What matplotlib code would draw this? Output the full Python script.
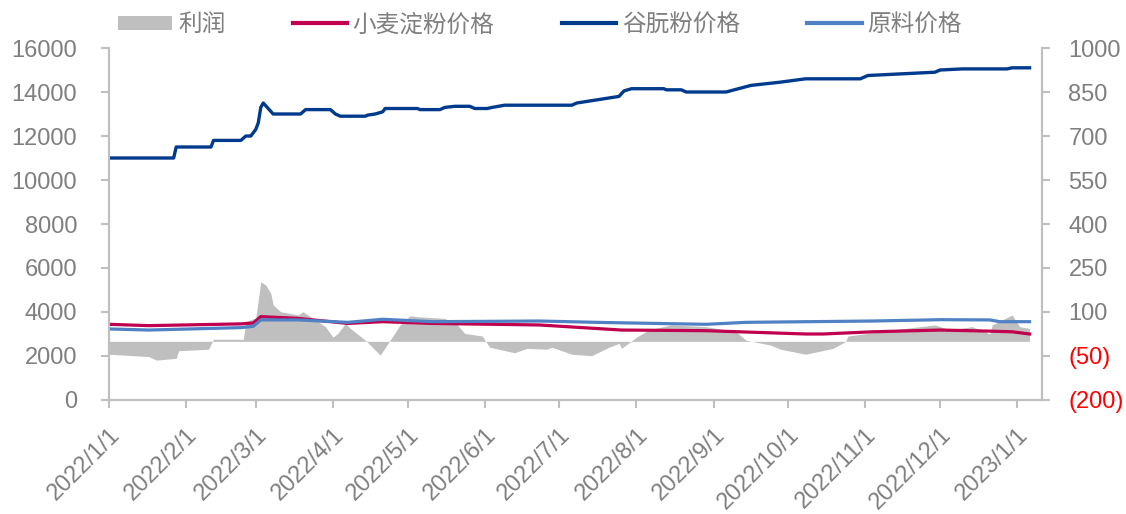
import matplotlib
matplotlib.use("Agg")
import matplotlib.pyplot as plt
import matplotlib.dates as mdates
import pandas as pd
from matplotlib.patches import Patch
from matplotlib.lines import Line2D

plt.rcParams["font.family"] = ["Liberation Sans", "Noto Sans CJK SC", "DejaVu Sans"]

# 谷朊粉价格 (left axis)
gluten_dates = ["2022-01-01", "2022-01-27", "2022-01-28", "2022-02-11", "2022-02-12",
                "2022-02-23", "2022-02-25", "2022-02-27", "2022-03-01", "2022-03-02",
                "2022-03-03", "2022-03-04", "2022-03-06", "2022-03-08", "2022-03-19",
                "2022-03-21", "2022-03-31", "2022-04-02", "2022-04-04", "2022-04-14",
                "2022-04-15", "2022-04-18", "2022-04-21", "2022-04-22", "2022-05-05",
                "2022-05-06", "2022-05-14", "2022-05-16", "2022-05-20", "2022-05-26",
                "2022-05-28", "2022-06-02", "2022-06-04", "2022-06-09", "2022-07-06",
                "2022-07-08", "2022-07-25", "2022-07-27", "2022-07-30", "2022-08-12",
                "2022-08-13", "2022-08-19", "2022-08-21", "2022-09-06", "2022-09-16",
                "2022-09-28", "2022-10-08", "2022-10-30", "2022-11-02", "2022-11-29",
                "2022-12-01", "2022-12-10", "2022-12-28", "2022-12-30", "2023-01-06"]
gluten_price = [11000, 11000, 11500, 11500, 11800,
                11800, 12000, 12000, 12300, 12600,
                13300, 13500, 13250, 13000, 13000,
                13200, 13200, 13000, 12900, 12900,
                12950, 13000, 13100, 13250, 13250,
                13200, 13200, 13300, 13350, 13350,
                13250, 13250, 13300, 13400, 13400,
                13500, 13800, 14050, 14150, 14150,
                14100, 14100, 14000, 14000, 14300,
                14450, 14600, 14600, 14750, 14900,
                15000, 15050, 15050, 15100, 15100]

# 小麦淀粉价格 (left axis)
starch_dates = ["2022-01-01", "2022-01-17", "2022-02-23", "2022-02-28", "2022-03-03",
                "2022-03-18", "2022-04-07", "2022-04-21", "2022-05-11", "2022-06-23",
                "2022-07-26", "2022-08-29", "2022-10-08", "2022-10-15", "2022-11-04",
                "2022-12-01", "2022-12-21", "2022-12-30", "2023-01-06"]
starch_price = [3440, 3380, 3460, 3500, 3790,
                3710, 3480, 3560, 3480, 3410,
                3180, 3150, 3000, 3000, 3100,
                3180, 3130, 3100, 3000]

# 原料价格 (left axis)
raw_dates = ["2022-01-01", "2022-01-17", "2022-02-23", "2022-02-28", "2022-03-03",
             "2022-03-18", "2022-04-07", "2022-04-21", "2022-05-11", "2022-06-23",
             "2022-07-20", "2022-08-29", "2022-09-14", "2022-11-04", "2022-12-01",
             "2022-12-21", "2022-12-25", "2023-01-06"]
raw_price = [3230, 3180, 3290, 3350, 3640,
             3640, 3530, 3670, 3560, 3590,
             3520, 3440, 3530, 3590, 3650,
             3640, 3560, 3560]

# 利润 (right axis)
profit_dates = ["2022-01-01", "2022-01-17", "2022-01-20", "2022-01-28", "2022-01-29",
                "2022-02-10", "2022-02-12", "2022-02-24", "2022-02-25", "2022-03-01",
                "2022-03-03", "2022-03-05", "2022-03-07", "2022-03-08", "2022-03-11",
                "2022-03-18", "2022-03-20", "2022-03-23", "2022-03-29", "2022-04-01",
                "2022-04-03", "2022-04-06", "2022-04-08", "2022-04-14", "2022-04-16",
                "2022-04-20", "2022-04-24", "2022-04-28", "2022-05-02", "2022-05-05",
                "2022-05-16", "2022-05-21", "2022-05-24", "2022-05-31", "2022-06-03",
                "2022-06-13", "2022-06-18", "2022-06-26", "2022-06-28", "2022-07-06",
                "2022-07-14", "2022-07-21", "2022-07-25", "2022-07-26", "2022-08-01",
                "2022-08-06", "2022-08-15", "2022-08-29", "2022-09-10", "2022-09-14",
                "2022-09-24", "2022-09-28", "2022-10-08", "2022-10-19", "2022-10-24",
                "2022-10-25", "2022-11-17", "2022-11-29", "2022-12-05", "2022-12-14",
                "2022-12-21", "2022-12-22", "2022-12-30", "2023-01-02", "2023-01-06"]
profit = [-44, -52, -64, -58, -32,
          -27, 7, 7, 67, 80,
          203, 192, 164, 124, 101,
          90, 101, 84, 50, 14,
          27, 61, 44, 4, -13,
          -47, 4, 56, 87, 84,
          78, 56, 27, 18, -20,
          -39, -24, -27, -20, -44,
          -49, -20, -7, -24, 14,
          39, 56, 50, 33, 4,
          -13, -27, -44, -24, -1,
          18, 44, 56, 39, 50,
          25, 56, 90, 50, 44]

left_ticks = list(range(0, 16001, 2000))
right_ticks = list(range(-200, 1001, 150))

grey = "#BFBFBF"
txt = "#7F7F7F"
c_starch = "#C0004F"
c_gluten = "#003A8C"
c_raw = "#4F81C4"

fig = plt.figure(figsize=(11.26, 5.14), dpi=100)
ax = fig.add_axes([0.0968, 0.2218, 0.8286, 0.6848])
ax2 = ax.twinx()
ax.set_zorder(ax2.get_zorder() + 1)
ax.patch.set_visible(False)

ax2.fill_between(pd.to_datetime(profit_dates), profit, 0, color=grey, linewidth=0)

ax.plot(pd.to_datetime(starch_dates), starch_price, color=c_starch, lw=2.3)
ax.plot(pd.to_datetime(raw_dates), raw_price, color=c_raw, lw=2.3)
ax.plot(pd.to_datetime(gluten_dates), gluten_price, color=c_gluten, lw=2.4)

x0 = pd.Timestamp("2022-01-01")
ax.set_xlim(x0, x0 + pd.Timedelta(days=375))
ax.set_ylim(0, 16000)
ax2.set_ylim(-200, 1000)
ax.set_yticks(left_ticks)
ax2.set_yticks(right_ticks)

ax.xaxis.set_major_locator(mdates.MonthLocator())
ax.xaxis.set_major_formatter(mdates.DateFormatter("%Y/%-m/%-d"))

for a in (ax, ax2):
    for s in a.spines.values():
        s.set_color(grey)
        s.set_linewidth(1.5)
    a.spines["top"].set_visible(False)
    a.tick_params(colors=grey, labelcolor=txt, labelsize=17, length=6, width=1.5)
ax.tick_params(axis="y", pad=17)
ax.tick_params(axis="x", pad=11)
ax2.tick_params(axis="y", pad=13)

ax2.set_yticklabels([f"({-v})" if v < 0 else str(v) for v in right_ticks])
for lab, v in zip(ax2.get_yticklabels(), right_ticks):
    lab.set_color("#FF0000" if v < 0 else txt)
for lab in ax.get_xticklabels():
    lab.set_rotation(45)
    lab.set_ha("right")
    lab.set_rotation_mode("anchor")

handles = [Patch(facecolor=grey, edgecolor="none"),
           Line2D([], [], color=c_starch, lw=3),
           Line2D([], [], color=c_gluten, lw=3),
           Line2D([], [], color=c_raw, lw=3)]
labels = ["利润", "小麦淀粉价格", "谷朊粉价格", "原料价格"]
fig.legend(handles, labels, loc="center", bbox_to_anchor=(0.4795, 0.952), ncol=4,
           frameon=False, handlelength=2.3, handleheight=0.55,
           handletextpad=0.25, columnspacing=2.85, labelcolor=txt,
           prop={"family": ["Noto Sans CJK SC"], "size": 17})

fig.savefig("out.png", dpi=100)
